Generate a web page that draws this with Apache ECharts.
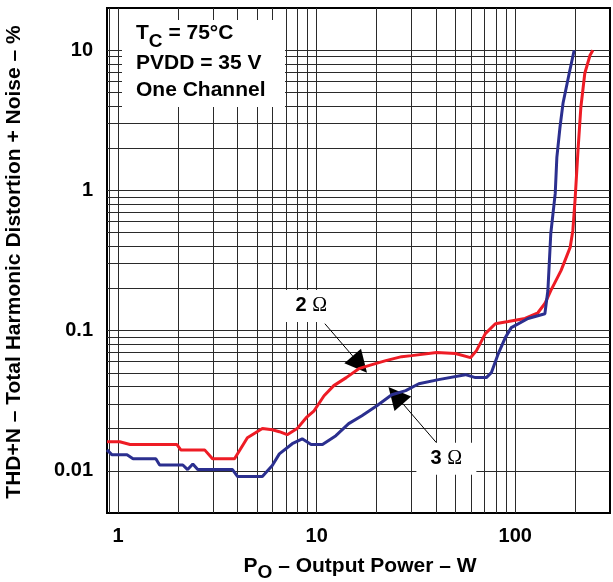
<!DOCTYPE html>
<html><head><meta charset="utf-8">
<script src="https://cdn.jsdelivr.net/npm/echarts@6/dist/echarts.min.js"></script>
<style>html,body{margin:0;padding:0;background:#fff}#c{width:613px;height:582px}</style>
</head><body><div id="c"></div>
<script>
// ---- data ----
const power2 = [0.88,1.02,1.15,1.98,2.07,2.73,2.99,3.86,4.48,5.33,5.98,6.49,7.11,7.98,8.86,9.71,10.9,12.2,14.1,16.3,19.0,22.3,26.8,30.1,40.2,50.0,59.5,63.8,70.7,79.4,92.2,112,130,141,151,170,189,195,200,207,214,224,238,246];
const thd2   = [0.0161,0.0161,0.0154,0.0154,0.0141,0.0141,0.0122,0.0122,0.0172,0.0200,0.0196,0.0190,0.0181,0.0200,0.0239,0.0268,0.0343,0.0405,0.0462,0.0535,0.0572,0.0611,0.0652,0.0663,0.0697,0.0686,0.0641,0.0720,0.0952,0.112,0.116,0.122,0.134,0.156,0.193,0.268,0.392,0.518,0.849,1.93,3.92,6.85,9.2,10.0];
const power3 = [0.88,0.933,1.11,1.19,1.55,1.62,2.12,2.24,2.38,2.52,3.77,4.0,5.33,5.98,6.49,7.54,8.46,9.38,10.7,12.5,14.5,16.9,20.1,23.9,28.1,32.7,41.1,56.1,63.0,71.5,75.8,82.2,89.1,95.5,116,141,146,151,159,162,168,174,187,198];
const thd3   = [0.0141,0.0130,0.0130,0.0122,0.0122,0.0110,0.0110,0.0102,0.0112,0.0102,0.0102,0.0091,0.0091,0.0109,0.0132,0.0156,0.0169,0.0154,0.0154,0.0178,0.0217,0.0247,0.0291,0.0349,0.0373,0.0418,0.0447,0.0485,0.0462,0.0462,0.0501,0.0686,0.0891,0.105,0.122,0.132,0.193,0.493,0.952,1.72,2.82,4.18,6.85,10.0];
const xTickValues = [1, 10, 100];
const xTickLabels = ['1', '10', '100'];
const yTickValues = [0.01, 0.1, 1, 10];
const yTickLabels = ['0.01', '0.1', '1', '10'];
const xRange = [0.88, 300];
const yRange = [0.005, 20];
const seriesNames = ['2 Ω', '3 Ω'];
// annotation anchors (data coordinates)
const label2 = [9.4, 0.15];
const arrow2 = [[11.0, 0.112], [16.5, 0.0575]];
const label3 = [45, 0.0122];
const arrow3 = [[40.2, 0.0158], [25.0, 0.0345]];

// ---- helpers ----
function minorGrid(range) {
  const out = [];
  for (let k = -4; k <= 4; k++) {
    for (let m = 1; m <= 9; m++) {
      const v = +(m * Math.pow(10, k)).toPrecision(6);
      if (v > range[0] * 1.0001 && v < range[1] * 0.9999) out.push(v);
    }
  }
  return out;
}
function tickFmt(values, labels) {
  return function (v) {
    for (let i = 0; i < values.length; i++) {
      if (Math.abs(v - values[i]) / values[i] < 1e-6) return labels[i];
    }
    return '';
  };
}
const FONT = '"Liberation Sans", Arial, Helvetica, sans-serif';
const gridColor = '#2a2a2a';

const chart = echarts.init(document.getElementById('c'), null, {renderer: 'canvas'});
const option = {
  animation: false,
  backgroundColor: '#fff',
  grid: {left: 107, top: 8, width: 507, height: 505, show: true, borderColor: '#000', borderWidth: 2, backgroundColor: 'transparent'},
  xAxis: {
    type: 'log', logBase: 10, min: xRange[0], max: xRange[1],
    axisLine: {show: true, onZero: false, lineStyle: {color: '#000', width: 2}},
    axisTick: {show: false}, splitLine: {show: false},
    axisLabel: {formatter: tickFmt(xTickValues, xTickLabels), color: '#000', fontSize: 20, fontWeight: 'bold', fontFamily: FONT, margin: 13, showMinLabel: true, showMaxLabel: true}
  },
  yAxis: {
    type: 'log', logBase: 10, min: yRange[0], max: yRange[1],
    axisLine: {show: true, onZero: false, lineStyle: {color: '#000', width: 2}},
    axisTick: {show: false}, splitLine: {show: false},
    axisLabel: {formatter: tickFmt(yTickValues, yTickLabels), color: '#000', fontSize: 20, fontWeight: 'bold', fontFamily: FONT, margin: 14}
  },
  series: [
    {
      name: 'grid', type: 'line', data: [[1, 0.01]], showSymbol: false, symbol: 'none', lineStyle: {width: 0}, z: 1, silent: true,
      markLine: {
        silent: true, symbol: ['none', 'none'], label: {show: false}, animation: false,
        lineStyle: {color: gridColor, width: 1, type: 'solid'},
        emphasis: {disabled: true},
        data: minorGrid(xRange).map(v => ({xAxis: v})).concat(minorGrid(yRange).map(v => ({yAxis: v})))
      }
    },
    {
      name: seriesNames[0], type: 'line', data: power2.map((p, i) => [p, thd2[i]]),
      showSymbol: false, symbol: 'none', lineStyle: {color: '#ee1c25', width: 3}, itemStyle: {color: '#ee1c25'}, z: 5
    },
    {
      name: seriesNames[1], type: 'line', data: power3.map((p, i) => [p, thd3[i]]),
      showSymbol: false, symbol: 'none', lineStyle: {color: '#2b2f8f', width: 3}, itemStyle: {color: '#2b2f8f'}, z: 5
    },
    {
      name: 'notes', type: 'line', data: [[1, 0.01]], showSymbol: false, symbol: 'none', lineStyle: {width: 0}, z: 8, silent: true,
      markLine: {
        silent: true, symbol: ['none', 'triangle'], symbolSize: 22, label: {show: false}, animation: false,
        lineStyle: {color: '#000', width: 1, type: 'solid', opacity: 1}, itemStyle: {color: '#000', opacity: 1},
        emphasis: {disabled: true},
        data: [
          [{coord: arrow2[0], symbol: 'none'}, {coord: arrow2[1], symbol: 'triangle', symbolSize: 22}],
          [{coord: arrow3[0], symbol: 'none'}, {coord: arrow3[1], symbol: 'triangle', symbolSize: 22}]
        ]
      },
      markPoint: {
        silent: true, symbol: 'rect', symbolSize: [60, 32], itemStyle: {color: '#fff'}, animation: false,
        label: {
          show: true, position: 'inside', color: '#000',
          rich: {
            n: {fontSize: 20, fontWeight: 'bold', fontFamily: FONT, color: '#000'},
            o: {fontSize: 20, fontWeight: 'normal', fontFamily: '"Liberation Serif", "DejaVu Serif", serif', color: '#000'}
          },
          formatter: function (p) { const s = p.name.split(' '); return '{n|' + s[0] + ' }{o|' + s[1] + '}'; }
        },
        data: [
          {name: seriesNames[0], coord: label2},
          {name: seriesNames[1], coord: label3}
        ]
      }
    }
  ],
  graphic: [
    {type: 'rect', shape: {x: 122, y: 20, width: 163, height: 87}, style: {fill: '#fff'}, z: 50, silent: true},
    {type: 'text', x: 136, y: 35, z: 51, silent: true, style: {
      text: '{m|T}{s|C}{m| = 75°C}', align: 'left', verticalAlign: 'middle', textAlign: 'left', textVerticalAlign: 'middle',
      rich: {
        m: {fontSize: 21, fontWeight: 'bold', fontFamily: FONT, fill: '#000', lineHeight: 24, verticalAlign: 'top'},
        s: {fontSize: 19, fontWeight: 'bold', fontFamily: FONT, fill: '#000', lineHeight: 22, padding: [9, 0, 0, 0], verticalAlign: 'top'}
      }
    }},
    {type: 'text', x: 136, y: 63, z: 51, silent: true, style: {
      text: 'PVDD = 35 V', font: 'bold 21px ' + FONT, fill: '#000', align: 'left', verticalAlign: 'middle', textAlign: 'left', textVerticalAlign: 'middle'
    }},
    {type: 'text', x: 136, y: 90, z: 51, silent: true, style: {
      text: 'One Channel', font: 'bold 21px ' + FONT, fill: '#000', align: 'left', verticalAlign: 'middle', textAlign: 'left', textVerticalAlign: 'middle'
    }},
    {type: 'text', x: 360, y: 568, z: 51, silent: true, style: {
      text: '{m|P}{s|O}{m| – Output Power – W}', align: 'center', verticalAlign: 'middle', textAlign: 'center', textVerticalAlign: 'middle',
      rich: {
        m: {fontSize: 21, fontWeight: 'bold', fontFamily: FONT, fill: '#000', lineHeight: 24, verticalAlign: 'top'},
        s: {fontSize: 19, fontWeight: 'bold', fontFamily: FONT, fill: '#000', lineHeight: 22, padding: [7, 0, 0, 0], verticalAlign: 'top'}
      }
    }},
    {type: 'text', x: 14, y: 262, rotation: Math.PI / 2, z: 51, silent: true, style: {
      text: 'THD+N – Total Harmonic Distortion + Noise – %', font: 'bold 21px ' + FONT, fill: '#000',
      align: 'center', verticalAlign: 'middle', textAlign: 'center', textVerticalAlign: 'middle'
    }}
  ]
};
chart.setOption(option);
</script>
</body></html>
